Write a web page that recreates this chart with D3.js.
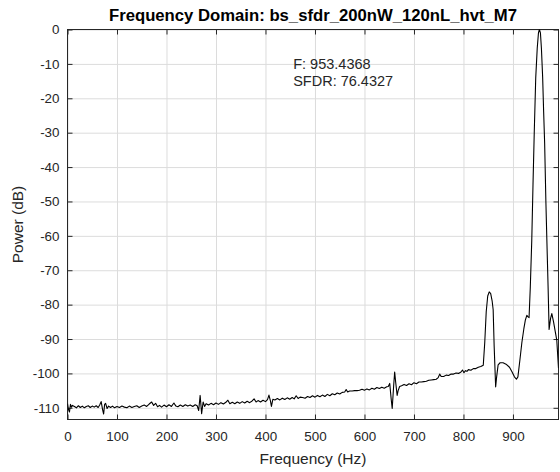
<!DOCTYPE html>
<html>
<head>
<meta charset="utf-8">
<script src="https://cdn.jsdelivr.net/npm/d3@7"></script>
<style>
  body { margin: 0; background: #fff; }
  text { font-family: "Liberation Sans", Arial, Helvetica, sans-serif; }
</style>
</head>
<body>
<svg id="plot_fft" width="560" height="472"></svg>
<script>
// spectrum (Hz, dB)
const freqHz = [
  0, 2, 4, 6, 8, 10, 14, 18, 22, 26, 30, 34, 38, 42, 46, 50, 54, 58, 62, 65,
  68, 71, 73, 75, 77, 80, 83, 87, 91, 95, 100, 105, 110, 115, 120, 125, 130, 135, 140, 145,
  150, 155, 160, 165, 170, 174, 178, 182, 186, 190, 195, 200, 205, 210, 215, 219, 223, 228, 233, 238,
  243, 248, 253, 258, 262, 265, 268, 271, 274, 277, 280, 285, 290, 295, 300, 305, 310, 315, 320, 324,
  328, 333, 338, 343, 348, 353, 358, 363, 368, 373, 377, 381, 385, 390, 395, 400, 404, 407, 410, 412,
  415, 419, 424, 429, 434, 439, 444, 449, 454, 458, 462, 466, 470, 475, 480, 485, 490, 495, 500, 505,
  510, 515, 520, 525, 530, 535, 540, 545, 550, 555, 560, 563, 566, 570, 575, 580, 585, 590, 595, 600,
  605, 610, 615, 620, 625, 630, 635, 640, 645, 648, 651, 654, 656, 659, 661, 663, 666, 668, 671, 675,
  680, 685, 690, 695, 700, 705, 710, 715, 720, 725, 730, 735, 740, 745, 749, 752, 755, 760, 765, 770,
  775, 780, 785, 790, 795, 798, 801, 804, 807, 810, 815, 820, 825, 830, 835, 840, 843, 846, 849, 852,
  855, 858, 860, 862, 865, 867, 870, 874, 880, 886, 893, 898, 903, 907, 910, 914, 918, 922, 925, 928,
  930, 932.5, 935, 938, 940.5, 943, 946, 949, 951.5, 953.4, 955.5, 957.5, 960, 962, 964, 966.5, 968.5, 971, 973, 976,
  978.5, 982, 985, 988.5, 992
];
const powerDb = [
  -108.8, -110.5, -111.2, -109.0, -109.8, -109.3, -109.6, -110.0, -109.4, -109.9, -109.5, -110.0, -109.6, -109.4, -109.9, -109.5, -109.8, -109.4, -109.9, -109.2,
  -108.2, -110.6, -111.8, -109.0, -108.7, -110.2, -109.5, -109.9, -109.5, -110.0, -109.6, -109.9, -109.5, -109.8, -110.0, -109.5, -109.9, -109.6, -109.4, -109.9,
  -109.5, -109.2, -109.6, -108.9, -108.3, -109.3, -108.7, -109.7, -109.3, -109.8, -109.2, -109.7, -109.1, -109.6, -108.6, -109.5, -109.7, -109.2, -109.6, -109.1,
  -109.5, -109.2, -109.6, -109.1, -109.4, -110.8, -106.4, -111.7, -108.3, -109.6, -108.8, -109.2, -108.7, -109.1, -108.6, -109.0, -108.5, -108.9, -108.4, -107.8,
  -108.8, -108.4, -108.8, -108.3, -108.7, -108.2, -108.6, -108.1, -108.5, -108.0, -107.4, -108.3, -107.9, -108.3, -107.8, -108.2, -107.6, -106.3, -108.0, -109.6,
  -107.5, -107.7, -107.3, -107.7, -107.2, -107.6, -107.1, -107.5, -107.0, -107.4, -106.5, -107.3, -106.9, -107.0, -107.2, -106.7, -107.0, -106.5, -106.9, -106.4,
  -106.8, -106.3, -106.7, -106.1, -106.5, -105.9, -106.2, -105.7, -106.0, -105.5, -105.4, -104.7, -105.4, -105.1, -105.1, -105.0, -105.0, -104.9, -104.6, -104.9,
  -104.5, -104.8, -104.3, -104.6, -104.1, -104.4, -104.0, -104.3, -103.9, -103.8, -102.9, -107.5, -110.2, -103.5, -99.6, -102.5, -106.4, -105.0, -103.8, -103.6,
  -103.2, -103.5, -103.0, -103.3, -102.7, -103.0, -102.5, -102.5, -102.4, -102.3, -102.0, -101.9, -101.8, -101.7, -101.2, -100.2, -100.9, -100.9, -100.5, -100.6,
  -100.2, -100.2, -99.9, -100.0, -99.6, -99.0, -99.8, -99.2, -99.4, -98.9, -99.1, -98.6, -98.6, -98.2, -98.0, -97.6, -91.0, -82.0, -77.5, -76.3,
  -76.8, -79.0, -81.5, -92.0, -103.9, -101.0, -97.5, -96.9, -96.9, -97.3, -98.2, -99.5, -101.0, -101.7, -101.0, -96.1, -91.0, -87.0, -84.5, -83.1,
  -83.5, -83.8, -75.0, -61.3, -45.0, -30.0, -14.0, -5.5, -1.0, 0.0, -1.0, -5.5, -14.0, -24.0, -33.0, -50.0, -61.3, -75.0, -87.2, -84.0,
  -82.6, -85.0, -87.5, -90.3, -98.5
];

const xTicks = [0, 100, 200, 300, 400, 500, 600, 700, 800, 900];
const yTicks = [0, -10, -20, -30, -40, -50, -60, -70, -80, -90, -100, -110];
const xDomain = [0, 992];
const yDomain = [-113.4, 0];

const titleText = "Frequency Domain: bs_sfdr_200nW_120nL_hvt_M7";
const annotLines = ["F: 953.4368", "SFDR: 76.4327"];

function getConfig() {
  let width = 560;
  let height = 472;
  let margin = { top: 29.5, bottom: 52.5, left: 67.5, right: 1.5 };
  let bodyWidth = width - margin.left - margin.right;
  let bodyHeight = height - margin.top - margin.bottom;
  let container = d3.select("#plot_fft");
  return { width, height, margin, bodyWidth, bodyHeight, container };
}

function getScales(config) {
  let { bodyWidth, bodyHeight } = config;
  let xScale = d3.scaleLinear().domain(xDomain).range([0, bodyWidth]);
  let yScale = d3.scaleLinear().domain(yDomain).range([bodyHeight, 0]);
  return { xScale, yScale };
}

function drawAxes(config, scales) {
  let { margin, container, bodyWidth, bodyHeight } = config;
  let { xScale, yScale } = scales;
  let body = container.append("g")
    .attr("transform", "translate(" + margin.left + "," + margin.top + ")");

  // grid
  body.append("g")
    .attr("class", "grid")
    .attr("transform", "translate(0," + bodyHeight + ")")
    .call(d3.axisBottom(xScale).tickValues(xTicks).tickSize(-bodyHeight).tickFormat(""));
  body.append("g")
    .attr("class", "grid")
    .call(d3.axisLeft(yScale).tickValues(yTicks).tickSize(-bodyWidth).tickFormat(""));
  body.selectAll(".grid line").attr("stroke", "#dcdcdc");

  // ticks pointing inward, on all four sides (plain hyphen for negatives, like the original)
  let fmt = d => String(d);
  let bottom = body.append("g")
    .attr("class", "ax")
    .attr("transform", "translate(0," + bodyHeight + ")")
    .call(d3.axisBottom(xScale).tickValues(xTicks).tickSizeInner(-5).tickSizeOuter(0).tickPadding(12).tickFormat(fmt));
  let left = body.append("g")
    .attr("class", "ax")
    .call(d3.axisLeft(yScale).tickValues(yTicks).tickSizeInner(-5).tickSizeOuter(0).tickPadding(8).tickFormat(fmt));
  body.append("g")
    .attr("class", "ax")
    .call(d3.axisTop(xScale).tickValues(xTicks).tickSizeInner(-5).tickSizeOuter(0).tickFormat(""));
  body.append("g")
    .attr("class", "ax")
    .attr("transform", "translate(" + bodyWidth + ",0)")
    .call(d3.axisRight(yScale).tickValues(yTicks).tickSizeInner(-5).tickSizeOuter(0).tickFormat(""));

  body.selectAll(".domain").remove();
  body.selectAll(".ax line").attr("stroke", "#262626");
  [bottom, left].forEach(a => a.selectAll("text")
    .attr("fill", "#262626")
    .style("font-size", "13.4px"));

  // box
  body.append("rect")
    .attr("width", bodyWidth)
    .attr("height", bodyHeight)
    .attr("fill", "none")
    .attr("stroke", "#262626")
    .attr("stroke-width", 1);

  return body;
}

function drawLine(body, config, scales) {
  let { bodyWidth, bodyHeight } = config;
  let { xScale, yScale } = scales;
  let data = freqHz.map((f, i) => ({ f: f, p: powerDb[i] }));

  body.append("clipPath").attr("id", "clipBody")
    .append("rect").attr("width", bodyWidth).attr("height", bodyHeight);

  body.append("path")
    .datum(data)
    .attr("clip-path", "url(#clipBody)")
    .attr("fill", "none")
    .attr("stroke", "#000")
    .attr("stroke-width", 1.1)
    .attr("stroke-linejoin", "round")
    .attr("d", d3.line().x(d => xScale(d.f)).y(d => yScale(d.p)));
}

function drawTexts(body, config, scales) {
  let { margin, container, bodyWidth, bodyHeight } = config;
  let { xScale, yScale } = scales;

  container.append("text")
    .attr("x", margin.left + bodyWidth / 2)
    .attr("y", 21)
    .attr("text-anchor", "middle")
    .style("font-size", "16.7px")
    .style("font-weight", "bold")
    .attr("fill", "#000")
    .text(titleText);

  container.append("text")
    .attr("x", margin.left + bodyWidth / 2)
    .attr("y", 464)
    .attr("text-anchor", "middle")
    .style("font-size", "15.5px")
    .attr("fill", "#262626")
    .text("Frequency (Hz)");

  container.append("text")
    .attr("transform", "translate(23," + (margin.top + bodyHeight / 2) + ")rotate(-90)")
    .attr("text-anchor", "middle")
    .style("font-size", "15.5px")
    .attr("fill", "#262626")
    .text("Power (dB)");

  // annotation placed at data coords
  body.selectAll(".annot")
    .data(annotLines)
    .enter()
    .append("text")
    .attr("class", "annot")
    .attr("x", xScale(456))
    .attr("y", (d, i) => yScale(-11.6) + i * 16.7)
    .style("font-size", "14.5px")
    .attr("fill", "#262626")
    .text(d => d);
}

let config = getConfig();
let scales = getScales(config);
let body = drawAxes(config, scales);
drawLine(body, config, scales);
drawTexts(body, config, scales);
</script>
</body>
</html>
